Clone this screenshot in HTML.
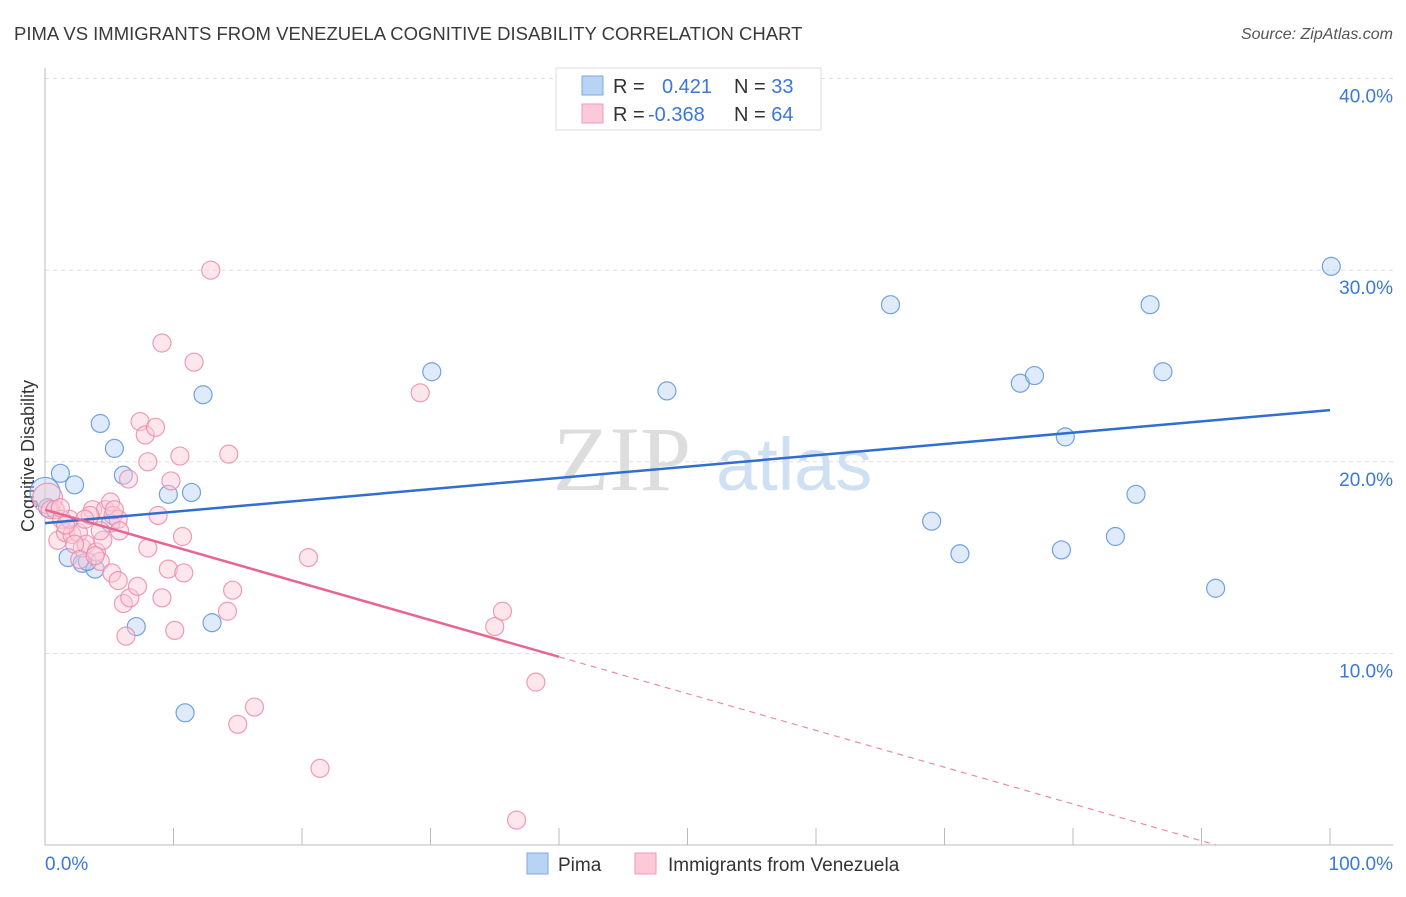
<!DOCTYPE html>
<html><head><meta charset="utf-8"><style>
body{margin:0;background:#fff;font-family:"Liberation Sans",sans-serif}
</style></head><body>
<svg width="1406" height="892" viewBox="0 0 1406 892" xmlns="http://www.w3.org/2000/svg">
<text x="14" y="40" font-size="18.5" fill="#3a3a3a">PIMA VS IMMIGRANTS FROM VENEZUELA COGNITIVE DISABILITY CORRELATION CHART</text>
<text x="1393" y="39" font-size="16" font-style="italic" fill="#555" text-anchor="end">Source: ZipAtlas.com</text>
<g>
<text x="553" y="490" font-size="92" font-family="Liberation Serif,serif" fill="#ddd">ZIP</text>
<text x="716" y="490" font-size="74" fill="#cfe0f3">atlas</text>
</g>
<g id="grid"></g>
<g id="axes"></g>
<text transform="translate(34,456) rotate(-90)" font-size="18" fill="#333" text-anchor="middle">Cognitive Disability</text>
<g id="marks"></g>
<g>
<rect x="556" y="68" width="265" height="62" fill="#fff" stroke="#ddd"/>
<rect x="582" y="76" width="21" height="19" fill="#b8d3f4" stroke="#7fa9e0"/>
<rect x="582" y="104" width="21" height="19" fill="#fbc9d8" stroke="#f09ab5"/>
<text x="613" y="93" font-size="20" fill="#333">R = <tspan fill="#3b78d8" x="662">0.421</tspan><tspan x="734" fill="#333">N = </tspan><tspan fill="#3b78d8">33</tspan></text>
<text x="613" y="121" font-size="20" fill="#333">R = <tspan fill="#3b78d8" x="648">-0.368</tspan><tspan x="734" fill="#333">N = </tspan><tspan fill="#3b78d8">64</tspan></text>
</g>
<g>
<rect x="527" y="853" width="21" height="21" fill="#b8d3f4" stroke="#7fa9e0"/>
<text x="558" y="871" font-size="19" fill="#333">Pima</text>
<rect x="635" y="853" width="21" height="21" fill="#fbc9d8" stroke="#f09ab5"/>
<text x="668" y="871" font-size="19" fill="#333">Immigrants from Venezuela</text>
</g>
</svg>
<script>
const yTicks=[10,20,30,40];
const yTickLabels=["10.0%","20.0%","30.0%","40.0%"];
const xTickLabels=["0.0%","100.0%"];
const pimaX=[0,1.2,2.3,4.3,5.4,6.1,5.1,1.8,2.9,3.9,3.3,7.1,9.6,11.4,12.3,10.9,13.0,30.1,48.4,65.8,69.0,71.2,75.9,77.0,79.1,79.4,83.3,84.9,86.0,87.0,91.1,100.1,0.2];
const pimaY=[18.4,19.4,18.8,22.0,20.7,19.3,16.8,15.0,14.7,14.4,14.8,11.4,18.3,18.4,23.5,6.9,11.6,24.7,23.7,28.2,16.9,15.2,24.1,24.5,15.4,21.3,16.1,18.3,28.2,24.7,13.4,30.2,17.6];
const venX=[0.2,0.4,0.8,1.3,1.0,1.6,2.1,2.6,2.9,3.2,3.7,4.0,4.3,4.7,5.1,5.3,5.7,5.2,5.7,6.1,6.6,6.3,7.2,8.0,8.8,9.1,9.6,10.1,10.7,10.8,6.5,7.4,7.8,8.6,8.0,9.8,10.5,9.1,11.6,12.9,14.3,14.2,14.6,15.0,16.3,20.5,21.4,29.2,35.0,35.6,38.2,36.7,1.9,1.2,2.3,3.5,1.6,4.5,2.7,5.4,5.8,3.9,3.1,4.3];
const venY=[18.1,17.5,17.5,17.0,15.9,16.3,16.2,16.3,15.5,15.7,17.5,15.3,14.8,17.5,17.9,17.2,17.0,14.2,13.8,12.6,12.9,10.9,13.5,15.5,17.2,12.9,14.4,11.2,16.1,14.2,19.1,22.1,21.4,21.8,20.0,19.0,20.3,26.2,25.2,30.0,20.4,12.2,13.3,6.3,7.2,15.0,4.0,23.6,11.4,12.2,8.5,1.3,17.0,17.6,15.7,17.2,16.7,15.9,14.9,17.5,16.4,15.1,17.0,16.4];
const pimaTrend=[16.8,22.7];
const venTrend=[17.5,-0.192];
const NS="http://www.w3.org/2000/svg";
const X=v=>45+v*12.85, Y=v=>845-v*19.16;
function mk(tag,attrs,parent){const e=document.createElementNS(NS,tag);for(const k in attrs)e.setAttribute(k,attrs[k]);parent.appendChild(e);return e;}
const grid=document.getElementById('grid'),axes=document.getElementById('axes'),marks=document.getElementById('marks');
yTicks.forEach((t,i)=>{
 const l=mk('line',{x1:45,x2:1393,y1:Y(t),y2:Y(t),stroke:'#ddd','stroke-dasharray':'4,4'},grid);
 
 
 const tx=mk('text',{x:1393,y:Y(t)+24,'font-size':19,fill:'#3b78d8','text-anchor':'end'},axes);
 tx.textContent=yTickLabels[i];
 
 
});
const ax=mk('line',{x1:45,x2:1393,y1:845,y2:845,stroke:'#bbb'},axes);


const ay=mk('line',{x1:45,x2:45,y1:68,y2:845,stroke:'#bbb'},axes);


for(let i=1;i<=10;i++){const t=mk('line',{x1:X(i*10),x2:X(i*10),y1:828,y2:845,stroke:'#bbb'},axes);
 
 }
const xl0=mk('text',{x:45,y:870,'font-size':19,fill:'#3b78d8'},axes);xl0.textContent=xTickLabels[0];


const xl1=mk('text',{x:1393,y:870,'font-size':19,fill:'#3b78d8','text-anchor':'end'},axes);xl1.textContent=xTickLabels[1];


function dots(xs,ys,fill,stroke,name){xs.forEach((x,i)=>{
 const c=mk('circle',{cx:X(x),cy:Y(ys[i]),r:i===0?15:9,fill:fill,stroke:stroke,'stroke-width':1.2,'fill-opacity':0.45,'stroke-opacity':0.85},marks);
 
 });}
dots(pimaX,pimaY,'#b8d3f4','#5b93d9','pima-point');
dots(venX,venY,'#fbc9d8','#ec8aaa','venezuela-point');
const bl=mk('line',{x1:X(0),y1:Y(pimaTrend[0]),x2:X(100),y2:Y(pimaTrend[1]),stroke:'#2f6fd1','stroke-width':2.5},marks);


const vy=x=>venTrend[0]+venTrend[1]*x;
const pl=mk('line',{x1:X(0),y1:Y(vy(0)),x2:X(40),y2:Y(vy(40)),stroke:'#e8658f','stroke-width':2.5},marks);


const xe=-venTrend[0]/venTrend[1];
const pd=mk('line',{x1:X(40),y1:Y(vy(40)),x2:X(xe),y2:Y(0),stroke:'#ec8aaa','stroke-width':1.2,'stroke-dasharray':'6,5'},marks);


</script>
</body></html>
